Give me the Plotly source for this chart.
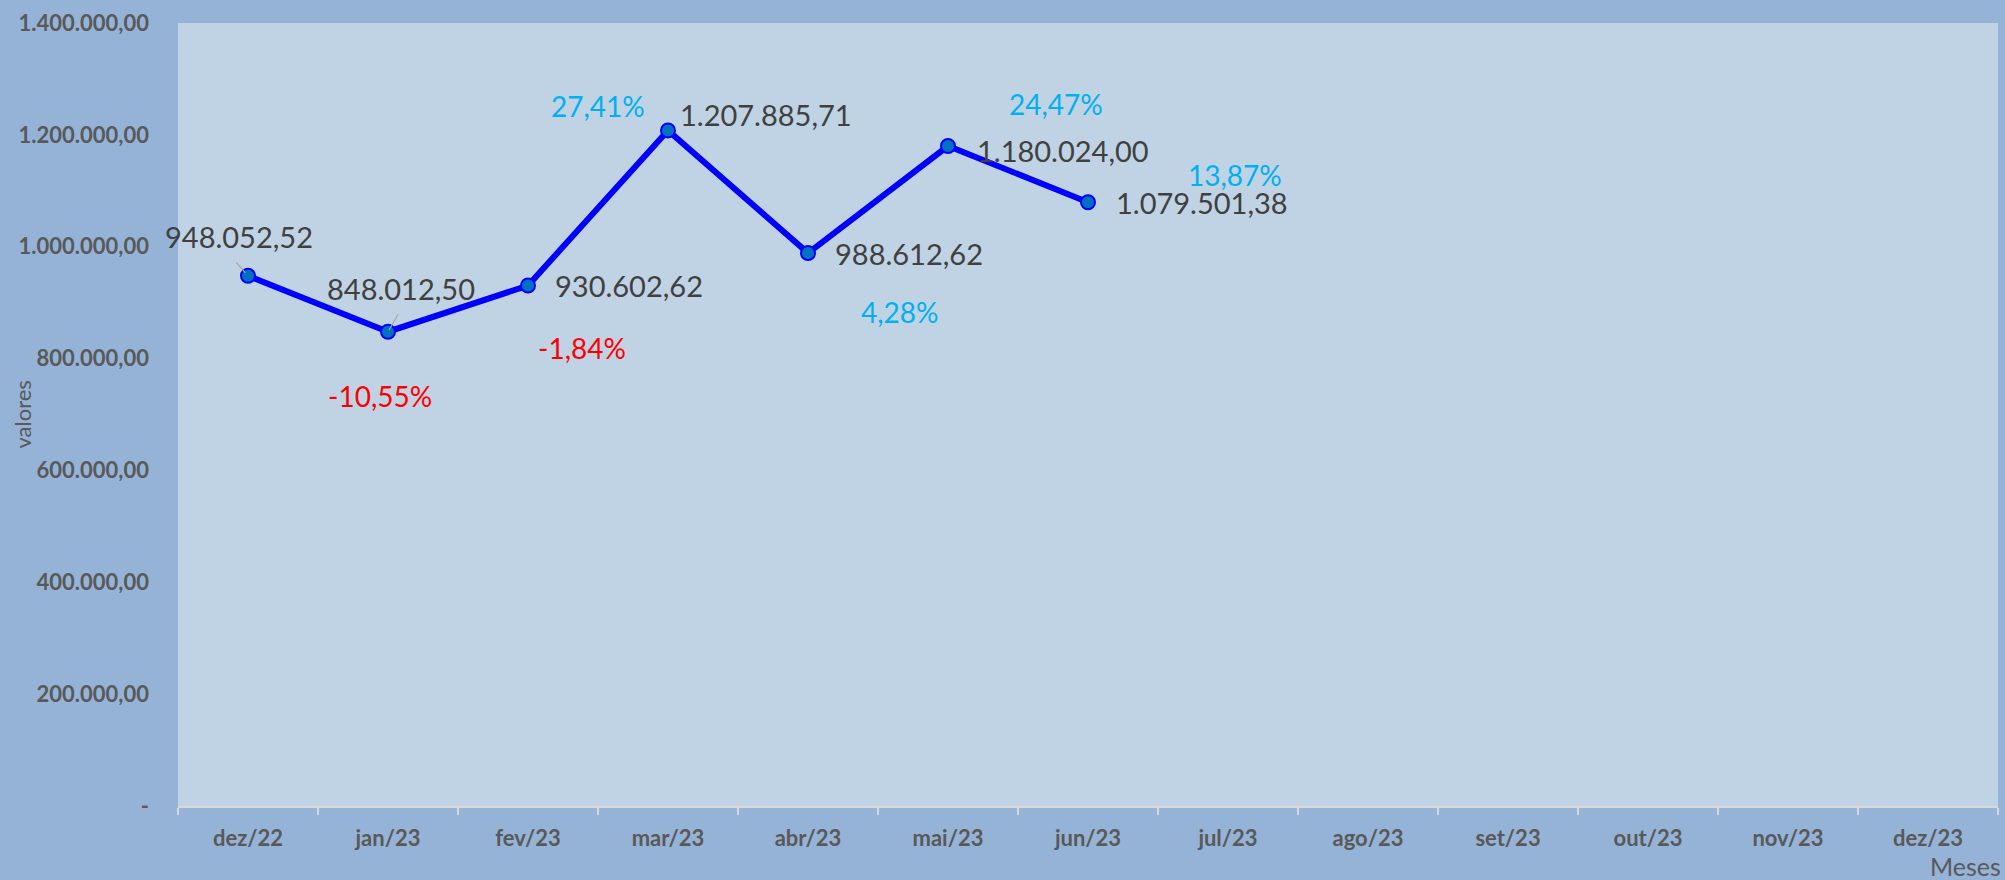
import plotly.graph_objects as go

# ---- data ----
months = ["dez/22", "jan/23", "fev/23", "mar/23", "abr/23", "mai/23", "jun/23",
          "jul/23", "ago/23", "set/23", "out/23", "nov/23", "dez/23"]
values = [948052.52, 848012.50, 930602.62, 1207885.71, 988612.62, 1180024.00, 1079501.38]
value_labels = ["948.052,52", "848.012,50", "930.602,62", "1.207.885,71",
                "988.612,62", "1.180.024,00", "1.079.501,38"]
pct_labels = [None, "-10,55%", "-1,84%", "27,41%", "4,28%", "24,47%", "13,87%"]
pct_colors = [None, "#FF0000", "#FF0000", "#00B0F0", "#00B0F0", "#00B0F0", "#00B0F0"]
y_tickvals = [0, 200000, 400000, 600000, 800000, 1000000, 1200000, 1400000]
y_ticktext = ["-", "200.000,00", "400.000,00", "600.000,00", "800.000,00",
              "1.000.000,00", "1.200.000,00", "1.400.000,00"]

# ---- label pixel offsets (dx right, dy up) ----
val_offsets = [(-9, 39), (13, 43), (101, 0), (98, 16), (101, 0), (115, -4), (114, 0)]
pct_offsets = [None, (-8, -64), (54, -62), (-70, 24), (92, -59), (108, 42), (147, 27)]

FONT = "Lato"
GREY = "#595959"
DARK = "#404040"

fig = go.Figure()
fig.add_trace(go.Scatter(
    x=months[:len(values)], y=values, mode="lines+markers",
    line=dict(color="#0000FF", width=6),
    marker=dict(size=14, color="#0070C0", line=dict(color="#0000FF", width=2)),
    showlegend=False, hoverinfo="skip",
))

annotations = []
for i, v in enumerate(values):
    dx, dy = val_offsets[i]
    annotations.append(dict(x=months[i], y=v, xref="x", yref="y", text=value_labels[i],
                            showarrow=False, xshift=dx, yshift=dy,
                            font=dict(family=FONT, size=29, color=DARK)))
    if pct_labels[i]:
        px, py = pct_offsets[i]
        annotations.append(dict(x=months[i], y=v, xref="x", yref="y", text=pct_labels[i],
                                showarrow=False, xshift=px, yshift=py,
                                font=dict(family=FONT, size=28, color=pct_colors[i])))

# leader lines for first two labels
for i, (ax, ay, so) in zip([0, 1], [(-13, -15, 4), (11, -19, 2)]):
    annotations.append(dict(x=months[i], y=values[i], xref="x", yref="y", text="",
                            showarrow=True, arrowhead=0, arrowwidth=1.2,
                            arrowcolor="#A6A6A6", ax=ax, ay=ay, standoff=so))

annotations.append(dict(text="valores", xref="paper", yref="paper", x=-0.0857, y=0.5,
                        xanchor="center", yanchor="middle", textangle=-90, showarrow=False,
                        font=dict(family=FONT, size=22, color=GREY)))
annotations.append(dict(text="Meses", xref="paper", yref="paper", x=1.003, y=-0.077,
                        xanchor="right", yanchor="middle", showarrow=False,
                        font=dict(family=FONT, size=25, color=GREY)))

fig.update_layout(
    width=2005, height=880,
    paper_bgcolor="#95B3D7",
    plot_bgcolor="#C0D3E4",
    margin=dict(l=178, r=7, t=23, b=74),
    annotations=annotations,
    xaxis=dict(
        type="category", categoryorder="array", categoryarray=months,
        tickmode="array", tickvals=months, ticktext=months,
        range=[-0.5, len(months) - 0.5],
        tickson="boundaries", ticks="outside", ticklen=7, tickwidth=2, tickcolor="#D9D9D9",
        showline=True, linecolor="#D9D9D9", linewidth=2,
        showgrid=False, zeroline=False, ticklabelstandoff=12,
        tickfont=dict(family=FONT, size=22, color=GREY, weight="bold"),
    ),
    yaxis=dict(
        range=[0, 1400000], tickmode="array", tickvals=y_tickvals, ticktext=y_ticktext,
        showgrid=False, zeroline=False, showline=False, ticks="",
        ticklabelstandoff=28,
        tickfont=dict(family=FONT, size=22, color=GREY, weight="bold"),
    ),
)

fig.write_html("out.html", config={"displayModeBar": False},
               post_script="document.body.style.margin='0';document.body.style.overflow='hidden';")
